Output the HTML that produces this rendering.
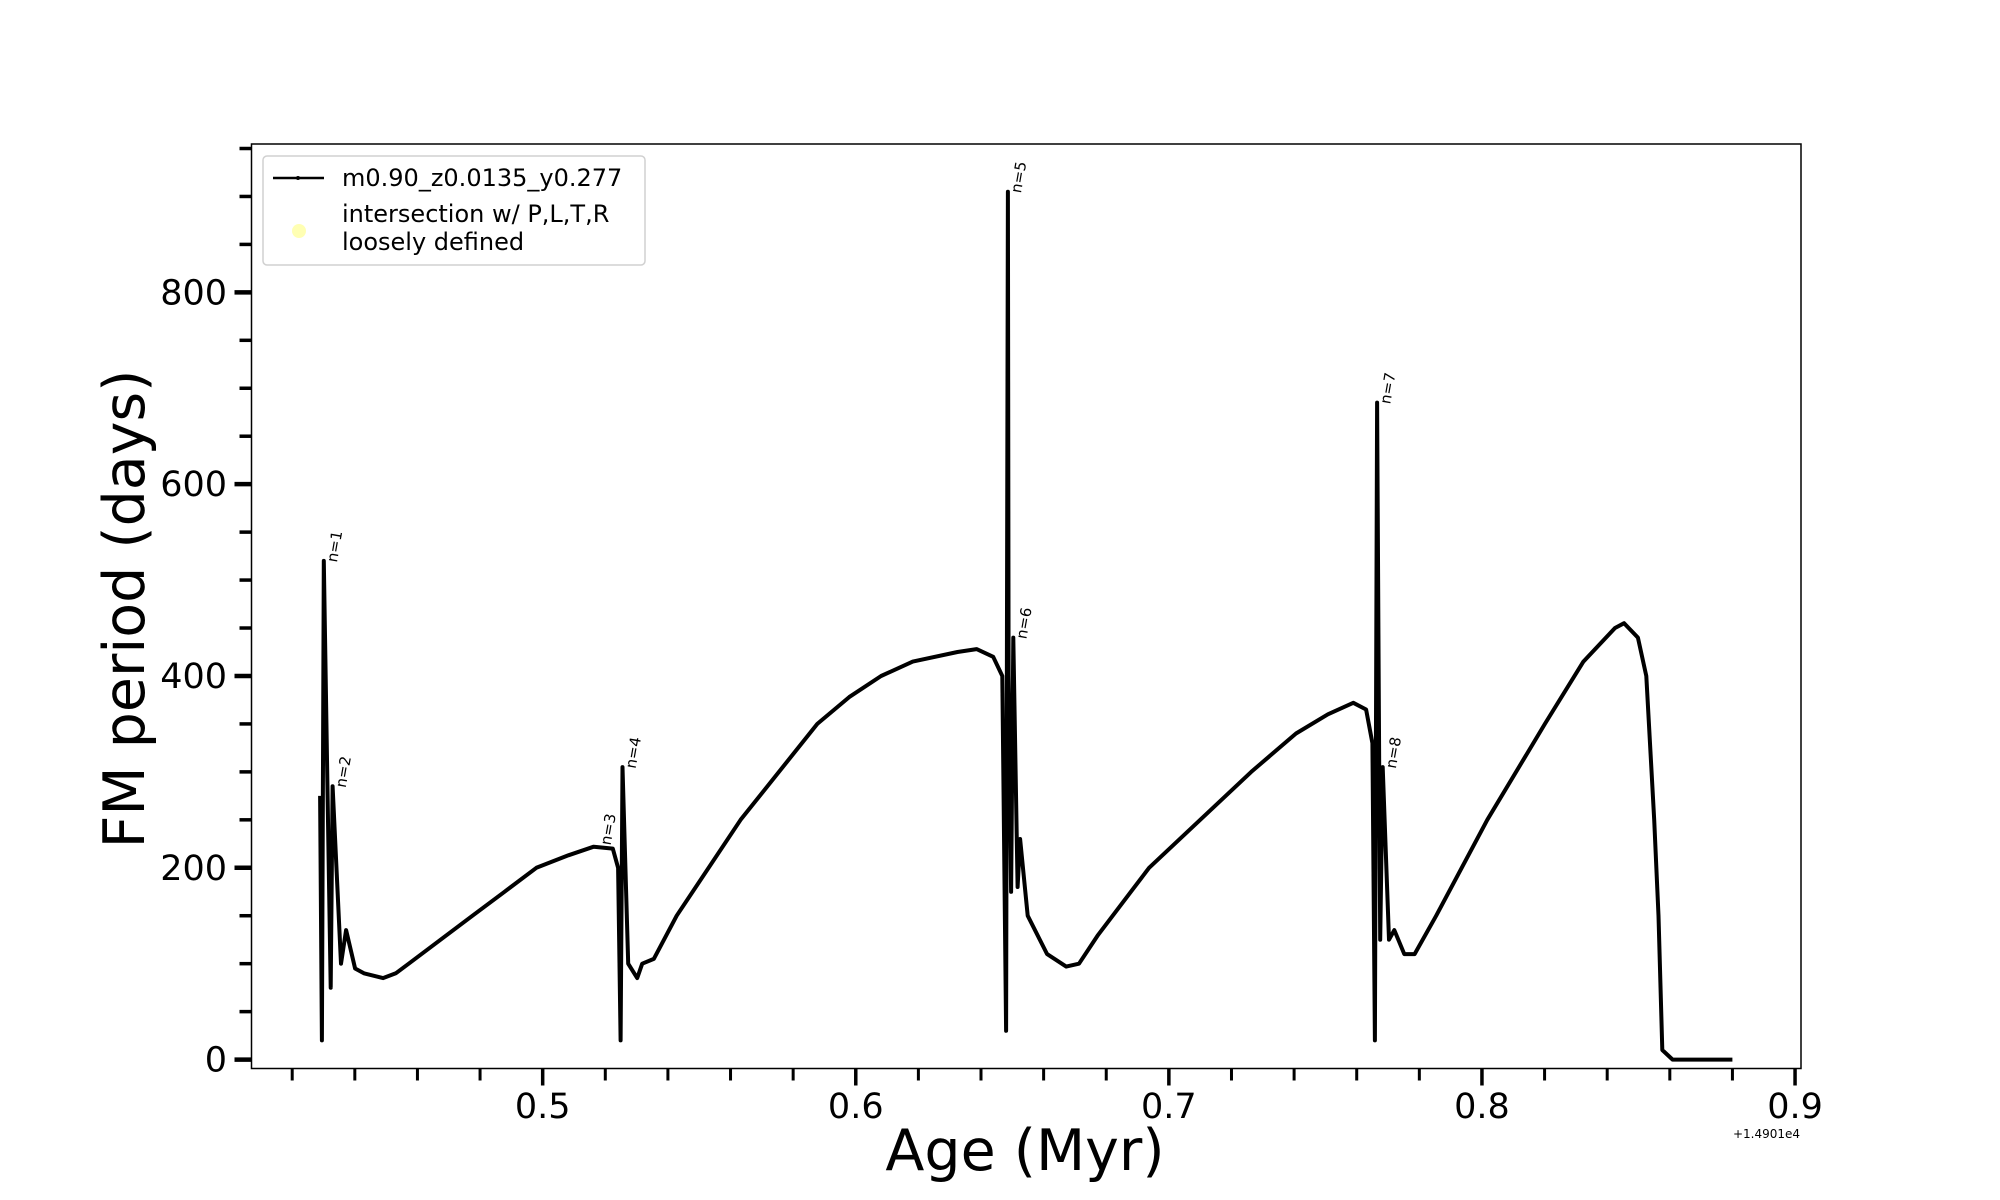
<!DOCTYPE html>
<html><head><meta charset="utf-8"><style>
body{margin:0;background:#fff}
svg{display:block;font-family:"DejaVu Sans","Liberation Sans",sans-serif}
</style></head><body>
<svg id="chart" width="2000" height="1200" viewBox="0 0 2000 1200" xmlns="http://www.w3.org/2000/svg">
<rect width="2000" height="1200" fill="#fff"/>
<g id="marks"></g>
<rect x="251.5" y="144" width="1549.5" height="924.5" fill="none" stroke="#000" stroke-width="1.5"/>
<g id="axes"></g>
<text x="1025" y="1170" font-size="57" text-anchor="middle">Age (Myr)</text>
<text transform="translate(144,609) rotate(-90)" font-size="57" text-anchor="middle">FM period (days)</text>
<text x="1800" y="1138" font-size="12" text-anchor="end">+1.4901e4</text>
<g>
<rect x="263" y="156" width="382" height="109" rx="4" fill="#fff" stroke="#ccc" stroke-width="1.5" opacity="0.9"/>
<line x1="273" y1="178" x2="324" y2="178" stroke="#000" stroke-width="2.5"/>
<circle cx="298" cy="178" r="2" fill="#000"/>
<text x="342" y="186" font-size="24">m0.90_z0.0135_y0.277</text>
<circle cx="299" cy="231" r="7" fill="#ffffb3"/>
<text x="342" y="222" font-size="24">intersection w/ P,L,T,R</text>
<text x="342" y="250" font-size="24">loosely defined</text>
</g>
</svg>
<script>
const ages=[0.4289,0.4295,0.4301,0.4323,0.4329,0.4356,0.4372,0.4401,0.4429,0.4490,0.4531,0.4572,0.4674,0.4776,0.4878,0.4980,0.5082,0.5163,0.5224,0.5241,0.5249,0.5255,0.5273,0.5302,0.5318,0.5355,0.5428,0.5632,0.5877,0.5979,0.6081,0.6182,0.6325,0.6386,0.6439,0.6468,0.6480,0.6486,0.6488,0.6496,0.6503,0.6517,0.6525,0.6549,0.6611,0.6672,0.6713,0.6774,0.6937,0.7263,0.7406,0.7508,0.7589,0.7630,0.7650,0.7658,0.7665,0.7675,0.7683,0.7703,0.7720,0.7752,0.7785,0.7854,0.8017,0.8201,0.8324,0.8425,0.8454,0.8498,0.8525,0.8550,0.8564,0.8576,0.8609,0.8800];
const periods=[275,20,520,75,285,100,135,95,90,85,90,100,125,150,175,200,213,222,220,200,20,305,100,85,100,105,150,250,350,378,400,415,425,428,420,400,30,905,400,175,440,180,230,150,110,97,100,130,200,300,340,360,372,365,330,20,685,125,305,125,135,110,110,150,250,350,415,450,455,440,400,250,150,10,0,0];
const annLabels=["n=1","n=2","n=3","n=4","n=5","n=6","n=7","n=8"];
const annAges=[0.4301,0.4329,0.5175,0.5255,0.6486,0.6503,0.7665,0.7683];
const annPeriods=[520,285,225,305,905,440,685,305];
const xTickLabels=["0.5","0.6","0.7","0.8","0.9"];
const yTickLabels=["0","200","400","600","800"];
const NS="http://www.w3.org/2000/svg";
const X0=0.407,X1=0.9019,Y0=-9.3,Y1=954.7;
const L=251.5,R=1801,T=144,B=1068.5;
function xs(a){return L+(a-X0)/(X1-X0)*(R-L);}
function ys(p){return B-(p-Y0)/(Y1-Y0)*(B-T);}
function mk(t,at){const e=document.createElementNS(NS,t);for(const k in at)e.setAttribute(k,at[k]);return e;}
const marks=document.getElementById('marks'),axes=document.getElementById('axes');
let d=ages.map((a,i)=>(i?'L':'M')+xs(a).toFixed(1)+' '+ys(periods[i]).toFixed(1)).join(' ');
const line=mk('path',{d:d,fill:'none',stroke:'#000','stroke-width':4,'stroke-linejoin':'round'});


marks.appendChild(line);
annLabels.forEach((s,i)=>{const x=xs(annAges[i])+13,y=ys(annPeriods[i])+2;
const t=mk('text',{transform:`translate(${x},${y}) rotate(-80)`,'font-size':15});t.textContent=s;


marks.appendChild(t);});
for(let k=0;k<25;k++){const v=0.42+k*0.02;if(v>X1)break;const x=xs(v);const maj=Math.abs((v*10)-Math.round(v*10))<1e-6;
const tk=mk('line',{x1:x,x2:x,y1:B,y2:B+(maj?17:12),stroke:'#000','stroke-width':maj?3.5:3});


axes.appendChild(tk);}
xTickLabels.forEach(s=>{const t=mk('text',{x:xs(parseFloat(s)),y:1118,'font-size':35,'text-anchor':'middle'});t.textContent=s;


axes.appendChild(t);});
for(let v=0;v<=950;v+=50){const y=ys(v);const maj=v%200===0;
const tk=mk('line',{x1:L,x2:L-(maj?17:12),y1:y,y2:y,stroke:'#000','stroke-width':maj?4.5:3.5});


axes.appendChild(tk);}
yTickLabels.forEach(s=>{const t=mk('text',{x:227,y:ys(parseFloat(s))+12,'font-size':35,'text-anchor':'end'});t.textContent=s;


axes.appendChild(t);});
</script>
</body></html>
